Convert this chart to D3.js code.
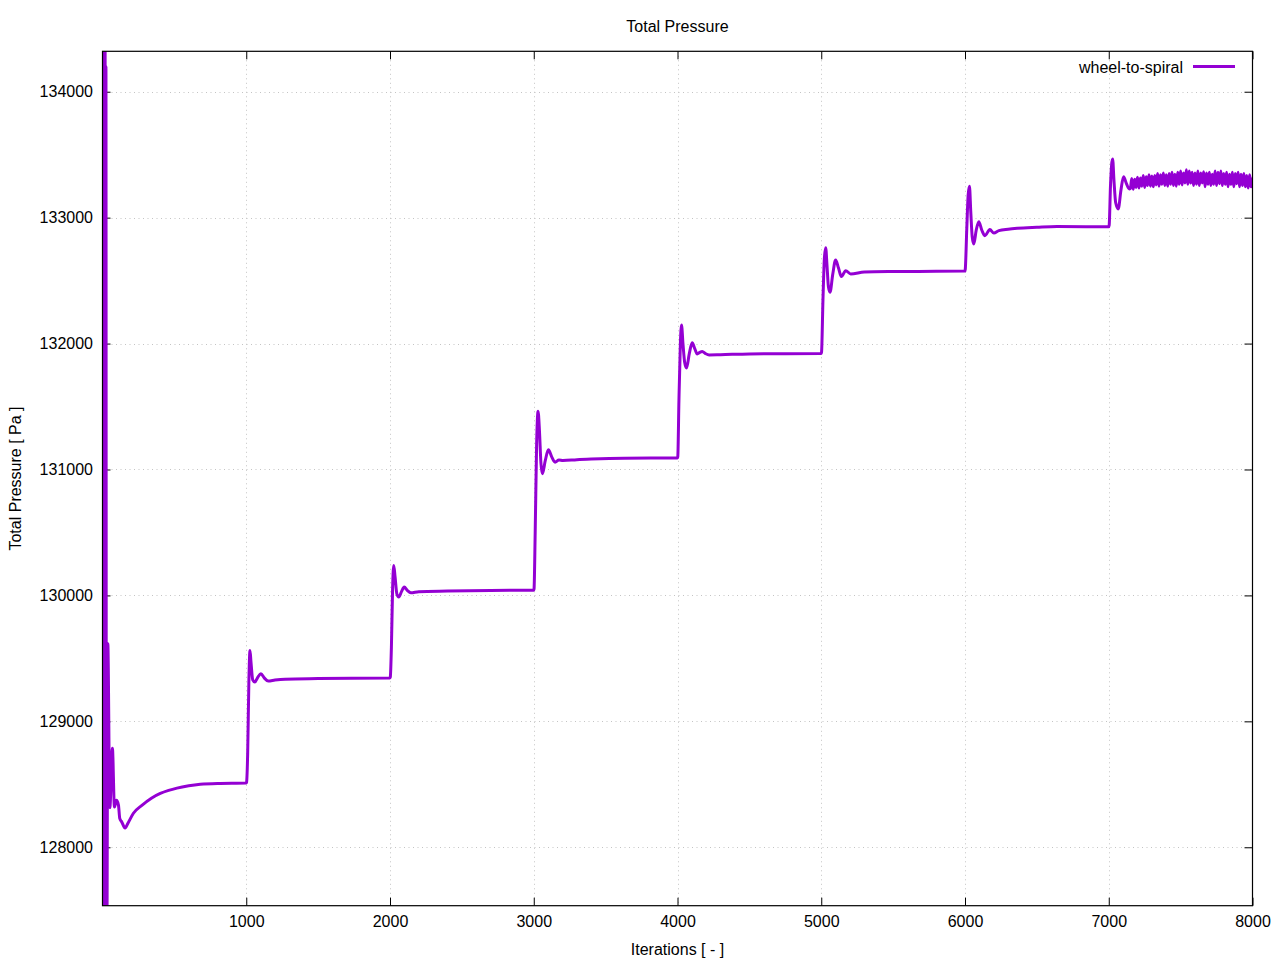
<!DOCTYPE html>
<html>
<head>
<meta charset="utf-8">
<script src="https://cdn.jsdelivr.net/npm/d3@7"></script>
<style>
  html, body { margin: 0; padding: 0; background: #fff; }
  text { font-family: "Liberation Sans", Arial, sans-serif; fill: #000; }
</style>
</head>
<body>
<svg id="chart" width="1280" height="960"></svg>
<script>
// ---- data ----
const chartTitle = "Total Pressure";
const xLabel = "Iterations [ - ]";
const yLabel = "Total Pressure [ Pa ]";
const seriesName = "wheel-to-spiral";

const xTicks = [1000, 2000, 3000, 4000, 5000, 6000, 7000, 8000];
const yTicks = [128000, 129000, 130000, 131000, 132000, 133000, 134000];

// start-up transient + steps (iteration, total pressure)
const iterations = [
  0, 3, 6, 9, 12, 15, 18, 21, 24, 27, 31, 37, 51, 69, 83, 97, 111, 120, 134, 157, 178, 215, 274, 340, 402, 460, 518, 600, 680, 800, 1000,
  1002, 1010, 1018, 1026, 1033, 1045, 1060, 1080, 1102, 1125, 1153, 1200, 1270, 1500, 2000,
  2002, 2010, 2018, 2026, 2035, 2048, 2061, 2080, 2099, 2120, 2145, 2200, 2400, 2700, 3000,
  3002, 3010, 3020, 3030, 3040, 3050, 3060, 3080, 3102, 3125, 3148, 3175, 3203, 3300, 3400, 3630, 4000,
  4002, 4010, 4020, 4028, 4038, 4050, 4063, 4082, 4102, 4120, 4137, 4155, 4172, 4195, 4220, 4300, 4500, 5000,
  5002, 5012, 5022, 5031, 5040, 5050, 5061, 5080, 5100, 5120, 5140, 5170, 5205, 5300, 5500, 5800, 6000,
  6002, 6012, 6022, 6031, 6040, 6050, 6061, 6078, 6096, 6117, 6138, 6173, 6201, 6236, 6300, 6363, 6500, 6641, 7000,
  7003, 7012, 7020, 7027, 7036, 7048, 7066, 7085, 7103, 7123, 7143
];
const pressure = [
  134600, 127300, 134700, 127200, 134800, 127300, 134500, 127250, 134200, 127300, 127350, 129617, 128315, 128786, 128320, 128373, 128335, 128230, 128201, 128153, 128193, 128270, 128333, 128390, 128428, 128452, 128470, 128488, 128500, 128507, 128510,
  128515, 128750, 129300, 129563, 129470, 129330, 129312, 129350, 129378, 129345, 129320, 129328, 129335, 129340, 129345,
  129350, 129600, 130050, 130238, 130150, 130010, 129987, 130030, 130066, 130040, 130021, 130030, 130035, 130040, 130042,
  130050, 130500, 131200, 131463, 131300, 131050, 130966, 131070, 131156, 131100, 131058, 131075, 131071, 131078, 131083, 131090, 131092,
  131100, 131550, 132000, 132148, 132000, 131850, 131807, 131920, 132006, 131960, 131918, 131930, 131937, 131920, 131910, 131912, 131918, 131922,
  131930, 132350, 132680, 132760, 132620, 132450, 132407, 132550, 132664, 132600, 132532, 132579, 132553, 132568, 132572, 132574, 132576,
  132590, 132900, 133180, 133249, 133050, 132850, 132791, 132900, 132968, 132900, 132857, 132905, 132878, 132897, 132908, 132915, 132923, 132929, 132928,
  132940, 133250, 133420, 133466, 133300, 133120, 133069, 133220, 133325, 133270, 133228
];

// fluctuating tail, every 10 iterations from 7150 to 8000
const tailStart = 7150;
const tailStep = 10;
const tailPressure = [
  133230, 133310, 133225, 133305, 133240, 133320, 133235, 133315, 133250, 133335,
  133240, 133325, 133255, 133340, 133250, 133330, 133245, 133335, 133260, 133350,
  133250, 133340, 133265, 133355, 133255, 133340, 133250, 133350, 133265, 133360,
  133255, 133345, 133250, 133360, 133265, 133370, 133260, 133355, 133275, 133380,
  133265, 133370, 133275, 133360, 133255, 133355, 133265, 133370, 133255, 133355,
  133275, 133365, 133245, 133355, 133265, 133360, 133255, 133345, 133265, 133370,
  133255, 133360, 133270, 133370, 133255, 133350, 133265, 133360, 133245, 133345,
  133265, 133360, 133245, 133350, 133270, 133360, 133245, 133345, 133255, 133350,
  133245, 133335, 133235, 133340, 133245, 133320
];

// ---- chart ----
const W = 1280, H = 960;
const plot = { left: 102.5, right: 1252.5, top: 51.3, bottom: 905.7 };
const svg = d3.select("#chart");
svg.append("rect").attr("width", W).attr("height", H).attr("fill", "#fff");

const x = d3.scaleLinear().domain([0, 8000]).range([plot.left, plot.right]);
const y = d3.scaleLinear().domain([127536, 134321]).range([plot.bottom, plot.top]);

const points = iterations.map((it, i) => [it, pressure[i]])
  .concat(tailPressure.map((p, i) => [tailStart + i * tailStep, p]));

const fontSize = 16;
const tickLen = 8;

// grid
const grid = svg.append("g").attr("stroke", "#c4c4c4").attr("stroke-width", 1)
  .attr("stroke-dasharray", "1,3.5").attr("fill", "none");
xTicks.filter(t => t < 8000).forEach(t => {
  grid.append("line").attr("x1", Math.round(x(t)) + 0.5).attr("x2", Math.round(x(t)) + 0.5)
    .attr("y1", plot.top).attr("y2", plot.bottom);
});
yTicks.forEach(t => {
  grid.append("line").attr("y1", Math.round(y(t)) + 0.5).attr("y2", Math.round(y(t)) + 0.5)
    .attr("x1", plot.left).attr("x2", plot.right);
});

// axes (ticks inward, mirrored)
const axB = d3.axisBottom(x).tickValues(xTicks).tickSizeInner(-tickLen).tickSizeOuter(0).tickPadding(10).tickFormat(d3.format("d"));
const axT = d3.axisTop(x).tickValues(xTicks).tickSizeInner(-tickLen).tickSizeOuter(0).tickFormat("");
const axL = d3.axisLeft(y).tickValues(yTicks).tickSizeInner(-tickLen).tickSizeOuter(0).tickPadding(9.5).tickFormat(d3.format("d"));
const axR = d3.axisRight(y).tickValues(yTicks).tickSizeInner(-tickLen).tickSizeOuter(0).tickFormat("");

function styleAxis(g) {
  g.select(".domain").remove();
  g.selectAll(".tick line").attr("stroke", "#000").attr("stroke-width", 1);
  g.selectAll(".tick text").attr("font-size", fontSize).attr("font-family", "'Liberation Sans', Arial, sans-serif").attr("fill", "#000");
}
svg.append("g").attr("transform", `translate(0,${plot.bottom})`).call(axB).call(styleAxis);
svg.append("g").attr("transform", `translate(0,${plot.top})`).call(axT).call(styleAxis);
svg.append("g").attr("transform", `translate(${plot.left},0)`).call(axL).call(styleAxis);
svg.append("g").attr("transform", `translate(${plot.right},0)`).call(axR).call(styleAxis);

// clip + line
svg.append("clipPath").attr("id", "clip").append("rect")
  .attr("x", plot.left).attr("y", plot.top)
  .attr("width", plot.right - plot.left).attr("height", plot.bottom - plot.top);

const line = d3.line().x(d => x(d[0])).y(d => y(d[1])).curve(d3.curveMonotoneX);
svg.append("path").datum(points)
  .attr("clip-path", "url(#clip)")
  .attr("fill", "none").attr("stroke", "#9400d3").attr("stroke-width", 3)
  .attr("stroke-linejoin", "round")
  .attr("d", line);

// frame
svg.append("rect").attr("x", plot.left).attr("y", plot.top)
  .attr("width", plot.right - plot.left).attr("height", plot.bottom - plot.top)
  .attr("fill", "none").attr("stroke", "#000").attr("stroke-width", 1.2);

// texts
svg.append("text").attr("x", (plot.left + plot.right) / 2).attr("y", 31.5)
  .attr("text-anchor", "middle").attr("font-size", fontSize).text(chartTitle);
svg.append("text").attr("x", (plot.left + plot.right) / 2).attr("y", 955)
  .attr("text-anchor", "middle").attr("font-size", fontSize).text(xLabel);
svg.append("text").attr("transform", `translate(20.5,${(plot.top + plot.bottom) / 2}) rotate(-90)`)
  .attr("text-anchor", "middle").attr("font-size", fontSize).text(yLabel);

// legend
svg.append("text").attr("x", 1183).attr("y", 72.5).attr("text-anchor", "end")
  .attr("font-size", fontSize).text(seriesName);
svg.append("line").attr("x1", 1193).attr("x2", 1235).attr("y1", 66.5).attr("y2", 66.5)
  .attr("stroke", "#9400d3").attr("stroke-width", 3);
</script>
</body>
</html>
